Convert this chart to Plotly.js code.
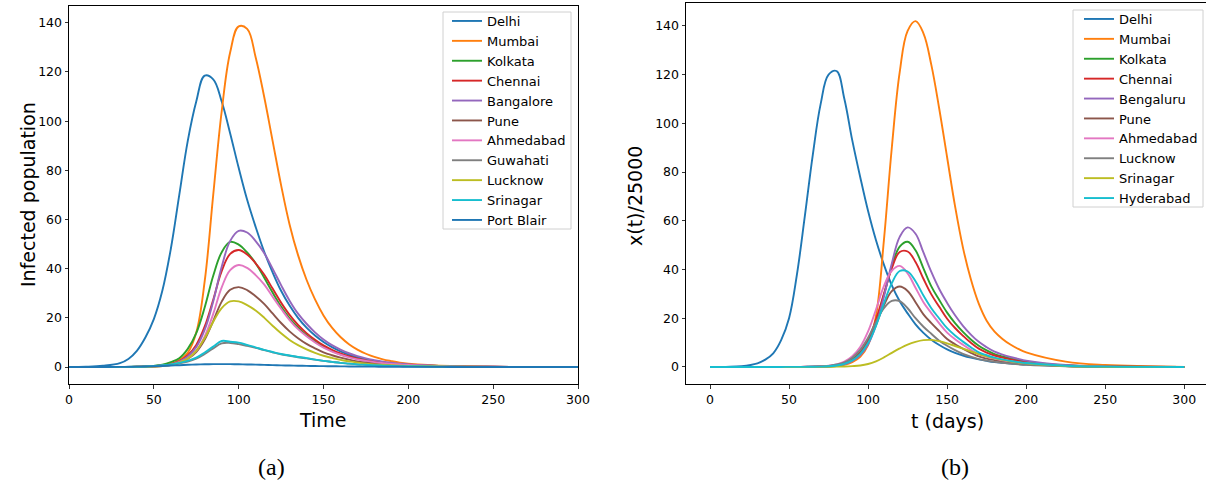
<!DOCTYPE html>
<html>
<head>
<meta charset="utf-8">
<script src="https://cdn.plot.ly/plotly-3.0.1.min.js"></script>
<style>html,body{margin:0;padding:0;overflow:hidden;background:#fff;}#chart{width:1210px;height:486px;}</style>
</head>
<body>
<div id="chart"></div>
<script>
// ---------- Data: panel (a) ----------
const timeA = [0,10,20,30,35,40,45,50,55,60,65,70,75,80,85,90,95,100,105,110,115,120,125,130,135,140,145,150,155,160,165,170,175,180,185,190,195,200,225,250,300];
const citiesA = ["Delhi","Mumbai","Kolkata","Chennai","Bangalore","Pune","Ahmedabad","Guwahati","Lucknow","Srinagar","Port Blair"];
const delhiA     = [0,0.1,0.5,1.6,3.3,6.6,12,19.5,31,48,70,92,108,118.5,117,108,95,81,68,57,47,38.5,31,25,20,16,12.8,10.2,8.1,6.4,5.0,3.9,3.1,2.4,1.9,1.5,1.2,0.95,0.3,0.1,0];
const mumbaiA    = [0,0,0,0,0.05,0.1,0.2,0.4,0.7,1.3,2.8,5.8,14,35,70,104,128,138.5,137.5,126,110,92,74,58,45.5,35.5,27.5,21,16,12.2,9.3,7.1,5.4,4.1,3.1,2.4,1.8,1.4,0.4,0.1,0];
const kolkataA   = [0,0,0,0.05,0.08,0.15,0.25,0.46,0.92,2.0,3.6,7.4,13.8,24.3,37.1,46.7,50.9,49.8,46.6,42.2,36.4,30.3,24.6,19.8,16.0,12.9,10.4,8.3,6.6,5.2,4.2,3.3,2.6,2.0,1.6,1.25,1.0,0.8,0.26,0.08,0];
const chennaiA   = [0,0,0,0.03,0.06,0.1,0.15,0.3,0.6,1.2,2.4,4.8,9.0,16.5,27.4,39.0,46.0,47.6,45.8,42.2,37.6,31.9,26.2,21.2,17.1,13.8,11.1,8.8,7.0,5.5,4.4,3.4,2.7,2.2,1.7,1.35,1.1,0.9,0.28,0.09,0];
const bangaloreA = [0,0,0,0.02,0.04,0.08,0.17,0.25,0.5,1.0,2.2,4.3,8.1,15.2,26.7,40.8,51.3,55.4,54.7,51.2,46.4,40.0,33.3,27.0,21.7,17.6,14.1,11.2,8.9,7.1,5.6,4.4,3.5,2.8,2.2,1.75,1.4,1.1,0.35,0.1,0];
const puneA      = [0,0,0,0.02,0.04,0.06,0.1,0.2,0.4,0.8,1.6,3.3,6.1,11.2,18.7,26.6,31.4,32.5,31.3,28.8,25.7,21.8,17.9,14.5,11.7,9.4,7.6,6.0,4.8,3.8,3.0,2.3,1.85,1.5,1.2,0.95,0.75,0.6,0.2,0.06,0];
const ahmedabadA = [0,0,0,0.02,0.04,0.06,0.12,0.2,0.4,0.8,1.9,3.5,6.6,12.5,21.6,32.4,39.4,41.5,40.3,37.4,33.6,28.6,23.7,19.1,15.4,12.5,10.0,7.9,6.3,5.0,3.9,3.1,2.5,2.0,1.6,1.25,1.0,0.8,0.25,0.08,0];
const guwahatiA  = [0,0,0.02,0.05,0.07,0.1,0.2,0.35,0.6,1.0,1.5,2.2,3.4,5.3,7.6,9.6,9.8,9.3,8.6,7.8,6.9,6.0,5.2,4.6,4.0,3.5,3.0,2.5,2.1,1.7,1.4,1.1,0.9,0.7,0.58,0.47,0.38,0.3,0.1,0.03,0];
const lucknowA   = [0,0,0,0.02,0.03,0.05,0.1,0.2,0.4,0.95,1.9,3.5,6.6,11.8,18.4,24.0,26.7,26.7,25.2,23.0,20.1,16.8,13.7,11.0,8.9,7.2,5.8,4.6,3.7,2.9,2.3,1.8,1.4,1.1,0.9,0.7,0.56,0.46,0.15,0.04,0];
const srinagarA  = [0,0,0.02,0.05,0.07,0.1,0.2,0.4,0.7,1.1,1.7,2.5,3.8,5.9,8.3,10.6,10.3,9.9,9.0,8.0,7.0,6.1,5.3,4.7,4.1,3.6,3.0,2.5,2.1,1.7,1.4,1.1,0.9,0.7,0.58,0.47,0.38,0.3,0.1,0.03,0];
const portBlairA = [0,0.01,0.02,0.06,0.1,0.15,0.22,0.32,0.45,0.6,0.75,0.9,1.02,1.12,1.18,1.2,1.18,1.13,1.05,0.96,0.87,0.78,0.69,0.61,0.54,0.47,0.41,0.36,0.31,0.27,0.23,0.2,0.17,0.15,0.13,0.11,0.09,0.08,0.04,0.02,0];
const seriesA = [delhiA,mumbaiA,kolkataA,chennaiA,bangaloreA,puneA,ahmedabadA,guwahatiA,lucknowA,srinagarA,portBlairA];

// ---------- Data: panel (b) ----------
const timeB = [0,10,20,30,35,40,45,50,55,60,65,70,75,80,85,90,95,100,105,110,115,120,125,130,135,140,145,150,155,160,165,170,175,180,185,190,195,200,225,250,300];
const citiesB = ["Delhi","Mumbai","Kolkata","Chennai","Bengaluru","Pune","Ahmedabad","Lucknow","Srinagar","Hyderabad"];
const delhiB     = [0,0.05,0.3,1.5,3,5.6,11,20,38,62,87,108,120,121.5,110,93,78,64,52,42,33.5,27,22,17.5,14,11.2,9,7.2,5.8,4.7,3.8,3.1,2.5,2,1.7,1.4,1.2,1,0.4,0.15,0];
const mumbaiB    = [0,0,0,0,0,0,0,0,0,0.02,0.05,0.1,0.2,0.4,0.9,2,4.2,9,21,52,90,121,138,142,137,124,106,86,66,49,36,26,19,14.5,11.5,9.2,7.4,6,2.2,0.8,0.05];
const kolkataB   = [0,0,0,0,0,0,0,0.01,0.02,0.03,0.05,0.1,0.25,0.6,1.2,2.8,5.5,10.3,18.3,29.5,41.3,49.4,51.4,47.9,40.5,33.1,27.5,22.3,18,14.4,11.3,8.7,6.8,5.3,4.3,3.5,2.8,2.2,0.7,0.2,0];
const chennaiB   = [0,0,0,0,0,0,0,0.01,0.02,0.04,0.07,0.15,0.3,0.7,1.5,3.0,6.0,11.1,19.5,30.0,40.5,47.2,47.4,43.1,36.2,29.8,24.7,19.8,16,12.8,9.9,7.5,5.9,4.7,3.8,3.1,2.5,2.0,0.6,0.17,0];
const bengaluruB = [0,0,0,0,0,0,0,0.01,0.02,0.04,0.06,0.1,0.2,0.55,1.1,2.5,4.8,9.2,17.1,28.8,42.5,53.4,57.3,54.7,47.0,39.0,32.0,26.3,21.2,16.9,13.3,10.3,8.1,6.3,5.1,4.1,3.3,2.6,0.8,0.23,0];
const puneB      = [0,0,0,0,0,0,0.01,0.02,0.04,0.06,0.1,0.17,0.36,0.7,1.5,3.1,5.8,10.5,17.5,25.3,31.1,33,31.2,26.6,21.6,18.0,14.7,11.5,9.3,7.5,5.8,4.3,3.4,2.8,2.2,1.8,1.45,1.15,0.35,0.1,0];
const ahmedabadB = [0,0,0,0,0,0,0.01,0.02,0.04,0.06,0.1,0.2,0.5,1.0,2.2,4.4,8.2,14.6,23.6,33.2,39.5,41.5,38.4,32.5,26.6,22.1,17.9,14.1,11.4,9.1,7.0,5.2,4.2,3.4,2.7,2.2,1.8,1.4,0.45,0.13,0];
const lucknowB   = [0,0,0,0,0,0,0.01,0.02,0.03,0.05,0.08,0.2,0.45,1.0,1.9,3.8,7.0,12.0,18.5,24.1,27.1,27.0,24.1,20.0,16.5,13.6,10.8,8.7,6.9,5.4,4.2,3.2,2.6,2.1,1.7,1.4,1.1,0.86,0.27,0.08,0];
const srinagarB  = [0,0,0,0,0,0,0,0,0.01,0.01,0.02,0.04,0.07,0.12,0.2,0.35,0.6,1.2,2.3,3.9,5.8,7.6,9.2,10.3,11,11.1,10.6,9.7,8.6,7.5,6.4,5.3,4.4,3.6,2.9,2.3,1.85,1.5,0.4,0.1,0];
const hyderabadB = [0,0,0,0,0,0,0.01,0.02,0.03,0.05,0.07,0.12,0.28,0.6,1.3,2.7,5.3,9.8,16.9,26.1,34.4,39.4,39.2,35.2,29.3,24.1,19.9,15.9,12.9,10.4,8.1,6.0,4.8,3.8,3.1,2.5,2.0,1.6,0.5,0.14,0];
const seriesB = [delhiB,mumbaiB,kolkataB,chennaiB,bengaluruB,puneB,ahmedabadB,lucknowB,srinagarB,hyderabadB];

const xTicks = [0,50,100,150,200,250,300];
const yTicks = [0,20,40,60,80,100,120,140];

// ---------- Styles ----------
const palette = ['#1f77b4','#ff7f0e','#2ca02c','#d62728','#9467bd','#8c564b','#e377c2','#7f7f7f','#bcbd22','#17becf'];
const W = 1210, H = 486;
const FONT = 'DejaVu Sans, sans-serif';
const px = v => v / W;          // pixel x -> paper
const py = v => (H - v) / H;    // pixel y (from top) -> paper

const traces = [];
citiesA.forEach((name, i) => {
  traces.push({
    type: 'scatter', mode: 'lines', name: name, x: timeA, y: seriesA[i],
    xaxis: 'x', yaxis: 'y', legend: 'legend',
    line: {color: palette[i % 10], width: 1.9, shape: 'spline', smoothing: 1.1}
  });
});
citiesB.forEach((name, i) => {
  traces.push({
    type: 'scatter', mode: 'lines', name: name, x: timeB, y: seriesB[i],
    xaxis: 'x2', yaxis: 'y2', legend: 'legend2',
    line: {color: palette[i % 10], width: 1.9, shape: 'spline', smoothing: 1.1}
  });
});

function axisBase() {
  return {
    showline: true, linecolor: '#000', linewidth: 1, mirror: true,
    ticks: 'outside', ticklen: 3.5, tickwidth: 0.8, tickcolor: '#000',
    tickfont: {family: FONT, size: 12.5, color: '#000'},
    showgrid: false, zeroline: false, fixedrange: true
  };
}
const titleFont = {family: FONT, size: 19, color: '#000'};
const capFont = {family: 'Liberation Serif, DejaVu Serif, serif', size: 24, color: '#000'};
const legFont = {family: FONT, size: 13, color: '#000'};

function ann(text, x, y, font, angle) {
  return {text: text, x: px(x), y: py(y), xref: 'paper', yref: 'paper',
          showarrow: false, xanchor: 'center', yanchor: 'middle',
          textangle: angle || 0, font: font};
}
function box(x0, y0, x1, y1) {
  return {type: 'rect', xref: 'paper', yref: 'paper', layer: 'above',
          x0: px(x0), x1: px(x1), y0: py(y1), y1: py(y0),
          line: {color: '#d0d0d0', width: 1}, fillcolor: 'rgba(255,255,255,0.85)'};
}

const layout = {
  width: W, height: H,
  margin: {l: 0, r: 0, t: 0, b: 0},
  paper_bgcolor: '#fff', plot_bgcolor: '#fff',
  showlegend: true,
  xaxis: Object.assign(axisBase(), {
    domain: [px(69), px(578)], range: [0, 300], anchor: 'y',
    tickmode: 'array', tickvals: xTicks
  }),
  yaxis: Object.assign(axisBase(), {
    domain: [py(384), py(6.3)], range: [-6.9, 146.7], anchor: 'x',
    tickmode: 'array', tickvals: yTicks
  }),
  xaxis2: Object.assign(axisBase(), {
    domain: [px(686), px(1208)], range: [-15.18, 315.0], anchor: 'y2',
    tickmode: 'array', tickvals: xTicks
  }),
  yaxis2: Object.assign(axisBase(), {
    domain: [py(384), py(3.3)], range: [-7.0, 149.3], anchor: 'x2',
    tickmode: 'array', tickvals: yTicks
  }),
  legend: {
    x: px(571), xanchor: 'right', y: py(6), yanchor: 'top',
    bgcolor: 'rgba(0,0,0,0)', borderwidth: 0, font: legFont
  },
  legend2: {
    x: px(1203), xanchor: 'right', y: py(4), yanchor: 'top',
    bgcolor: 'rgba(0,0,0,0)', borderwidth: 0, font: legFont
  },
  shapes: [box(443, 12, 571, 229), box(1073, 10, 1203, 207)],
  annotations: [
    ann('Time', 323, 420, titleFont),
    ann('Infected population', 28, 195, titleFont, -90),
    ann('t (days)', 947, 421, titleFont),
    ann('x(t)/25000', 635, 196, titleFont, -90),
    ann('(a)', 271, 467, capFont),
    ann('(b)', 955, 467, capFont)
  ]
};

Plotly.newPlot('chart', traces, layout, {staticPlot: true, displayModeBar: false});
</script>
</body>
</html>
